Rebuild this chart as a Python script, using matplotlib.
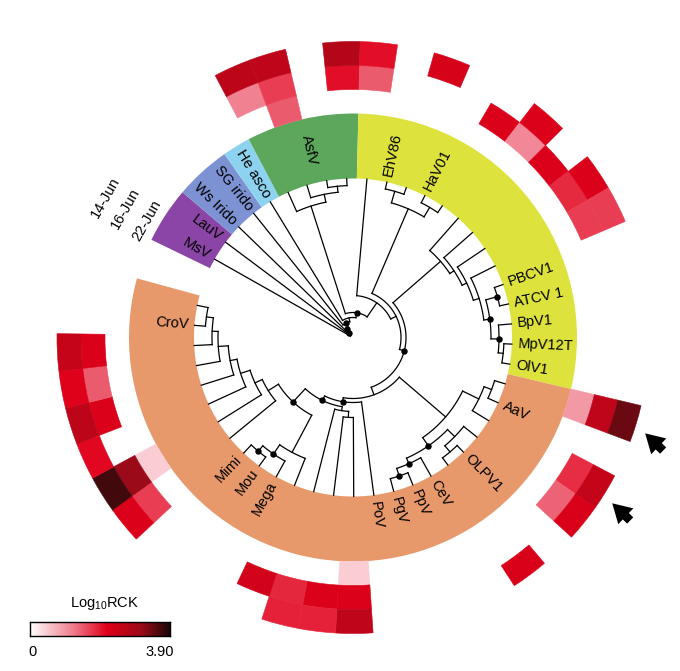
import numpy as np
import matplotlib
matplotlib.use('Agg')
import matplotlib.pyplot as plt
from matplotlib.patches import Wedge, FancyArrowPatch
from matplotlib.colors import LinearSegmentedColormap, Normalize

plt.rcParams['font.family'] = ['Liberation Sans', 'DejaVu Sans']
plt.rcParams['mathtext.default'] = 'regular'


# tree nodes: (radius, has_dot, children), leaves are plain strings
def node(r, *kids, dot=False):
    return (r, dot, list(kids))


# --- tree (children listed counter-clockwise first) ---
green = node(138, 'g4', node(146, 'g3', node(152, 'g2', 'g1')))
ehv = node(140, node(152, 'EhV86', 'y11'), node(151, 'HaV01', 'y9'))
chl_a = node(150, 'PBCV1', 'ATCV 1', dot=True)
chl_b = node(146, 'BpV1', node(151, 'MpV12T', 'OlV1'), dot=True)
chlor = node(116, 'y8', node(121, 'y7', node(126, 'y6', node(132, 'y5',
             node(138, chl_a, chl_b, dot=True)))))
aav = node(140, node(148, 'o48', 'AaV'), 'o46')
olpv = node(142, 'o45', node(150, 'OLPV1', 'o43'))
cev = node(138, 'CeV', node(146, 'PpV', 'PgV', dot=True), dot=True)
aav_grp = node(122, aav, node(132, olpv, cev, dot=True))
q_grp = node(74, node(80, 'o38', 'o37'), 'o36')
mimi = node(130, 'o35', node(141, 'Mega', node(148, 'Mou', 'Mimi', dot=True), dot=True))
crov = node(100, 'o31', node(108, 'o30', node(118, 'o29', node(125, 'o28',
            node(135, 'o27', node(141, 'o26', node(148, 'CroV', 'o24')))))))
backbone = node(53, chlor, node(61, aav_grp, node(65, 'PoV', node(70, q_grp,
                node(88, mimi, crov, dot=True), dot=True), dot=True)), dot=True)
tree = node(3, 'MsV', node(6, 'LauV', node(11, 'Ws Irido', node(16, 'SG irido',
            node(20, 'He asco', node(25, green, node(42, 'y13', node(48, ehv, backbone)),
                 dot=True)), dot=True), dot=True), dot=True))

labelled = ['MsV', 'LauV', 'Ws Irido', 'SG irido', 'He asco', 'EhV86', 'HaV01',
            'PBCV1', 'ATCV 1', 'BpV1', 'MpV12T', 'OlV1', 'AaV', 'OLPV1', 'CeV',
            'PpV', 'PgV', 'PoV', 'Mega', 'Mou', 'Mimi', 'CroV']

# --- clade bands ---
clade_first = ['MsV', 'Ws Irido', 'He asco', 'g4', 'y13', 'o48']
clade_last = ['LauV', 'SG irido', 'He asco', 'g1', 'OlV1', 'o24']
clade_colors = ['#8B45A6', '#7C92D2', '#8DD3F0', '#5CA75B', '#DDE33C', '#E8996B']
clade_text = ['', '', '', 'AsfV', '', '']

# --- heatmap (Log10 RCK), rings from inside: 22-Jun, 16-Jun, 14-Jun ---
dates = ['22-Jun', '16-Jun', '14-Jun']
hm_leaves = ['g4', 'g3', 'g1', 'y13', 'y11', 'y9', 'y8', 'y7', 'y6', 'y5',
             'o48', 'o46', 'o45', 'o43', 'o38', 'o37', 'o36', 'o35',
             'o31', 'o30', 'o29', 'o28', 'o27', 'o26']
nan = np.nan
jun22 = [nan, 1.45, nan, nan, nan, nan, nan, nan, nan, nan,
         0.95, nan, nan, nan, 0.47, nan, nan, nan,
         nan, 0.47, nan, nan, nan, nan]
jun16 = [1.17, 1.68, 2.05, 1.45, nan, 2.2, 1.1, 2.2, 1.83, 1.68,
         2.6, 1.8, 1.4, nan, 2.2, 2.2, 1.85, 2.35,
         1.68, 3.1, nan, 2.2, 1.45, 2.2]
jun14 = [2.65, 2.6, 2.75, 2.05, 2.3, nan, 2.2, nan, 2.2, 1.68,
         3.4, 2.55, 2.25, 2.25, 2.6, 1.9, 1.9, nan,
         2.2, 3.65, 2.1, 2.65, 2.15, 2.5]
vmax = 3.90
arrow_leaves = ['o48', 'o46']

# --- layout ---
cx, cy = 353, 671 - 337.5
R_TIP = 159
BAND_OUT = 224
RING_W = 24
START = 150.5
GAP_SLOTS = 2.45
FS = 10.5


def leaves_of(n):
    if isinstance(n, str):
        return [n]
    out = []
    for k in n[2]:
        out += leaves_of(k)
    return out


order = leaves_of(tree)
step = 360.0 / (len(order) - 1 + GAP_SLOTS)
ang = {name: START - i * step for i, name in enumerate(order)}


def xy(r, a):
    t = np.deg2rad(a)
    return cx + r * np.cos(t), cy + r * np.sin(t)


fig = plt.figure(figsize=(6.8, 6.71), dpi=100)
ax = fig.add_axes([0, 0, 1, 1])
ax.set_xlim(0, 680)
ax.set_ylim(0, 671)
ax.axis('off')

# bands
for first, last, col, txt in zip(clade_first, clade_last, clade_colors, clade_text):
    a1 = ang[first] + step / 2
    a2 = ang[last] - step / 2
    ax.add_patch(Wedge((cx, cy), BAND_OUT, a2, a1, width=BAND_OUT - R_TIP,
                       facecolor=col, edgecolor='none', zorder=1))
    if txt:
        am = (a1 + a2) / 2
        x, y = xy(192, am)
        ax.text(x, y, txt, rotation=am - 180, ha='center', va='center',
                fontsize=FS, rotation_mode='anchor', zorder=5)

# tree
LW = 0.9


def draw(n):
    if isinstance(n, str):
        return ang[n], R_TIP
    r, dot, kids = n
    info = [draw(k) for k in kids]
    a_list = [a for a, _ in info]
    a_node = (a_list[0] + a_list[-1]) / 2
    t = np.linspace(min(a_list), max(a_list), 60)
    px, py = xy(r, t)
    ax.plot(px, py, color='black', lw=LW, zorder=3, solid_capstyle='projecting')
    for a, rc in info:
        p0 = xy(r, a)
        p1 = xy(rc, a)
        ax.plot([p0[0], p1[0]], [p0[1], p1[1]], color='black', lw=LW, zorder=3,
                solid_capstyle='projecting')
    if dot:
        dx, dy = xy(r, a_node)
        ax.plot(dx, dy, 'o', color='black', ms=3.6, zorder=4)
    return a_node, r


draw(tree)

# leaf labels
for name in labelled:
    a = ang[name] % 360
    x, y = xy(R_TIP + 6, a)
    if 90 < a < 270:
        ax.text(x, y, name, rotation=a - 180, ha='right', va='center',
                rotation_mode='anchor', fontsize=FS, zorder=5)
    else:
        ax.text(x, y, name, rotation=a, ha='left', va='center',
                rotation_mode='anchor', fontsize=FS, zorder=5)

# heatmap
cmap = LinearSegmentedColormap.from_list(
    'rck', [(0, '#ffffff'), (0.3, '#f08090'), (0.55, '#e0001a'),
            (0.8, '#9a0a18'), (1, '#1a0808')])
norm = Normalize(0, vmax)
for k, vals in enumerate([jun22, jun16, jun14]):
    r_out = BAND_OUT + (k + 1) * RING_W
    for name, v in zip(hm_leaves, vals):
        if np.isnan(v):
            continue
        a = ang[name]
        c = cmap(norm(v))
        ax.add_patch(Wedge((cx, cy), r_out, a - step / 2, a + step / 2, width=RING_W,
                           facecolor=c, edgecolor=c, lw=0.4, zorder=2))

# date labels
a_lab = ang['MsV']
for k, d in enumerate(dates):
    x, y = xy(BAND_OUT + (k + 0.5) * RING_W + 1, a_lab)
    ax.text(x, y, d, rotation=a_lab - 90, ha='center', va='center',
            fontsize=10.5, rotation_mode='anchor')

# arrows
for name in arrow_leaves:
    hx, hy = xy(305, ang[name] - 1.0)
    ax.add_patch(FancyArrowPatch((hx + 22, hy - 21), (hx, hy),
                                 arrowstyle='simple,head_length=0.9,head_width=1.05,tail_width=0.42',
                                 mutation_scale=15, color='black', lw=0, zorder=5))

# colour bar
cax = fig.add_axes([30 / 680, (671 - 636) / 671, 140 / 680, 14 / 671])
cax.imshow(np.linspace(0, 1, 256)[None, :], aspect='auto', cmap=cmap,
           extent=[0, vmax, 0, 1])
cax.set_xticks([])
cax.set_yticks([])
for s in cax.spines.values():
    s.set_linewidth(1.0)
fig.text(105 / 680, 1 - 604 / 671, 'Log$_{10}$RCK', ha='center', va='center', fontsize=10.5)
fig.text(28 / 680, 1 - 652 / 671, '0', ha='left', va='center', fontsize=10.5)
fig.text(174 / 680, 1 - 652 / 671, '3.90', ha='right', va='center', fontsize=10.5)

fig.savefig('out.png', dpi=100)
